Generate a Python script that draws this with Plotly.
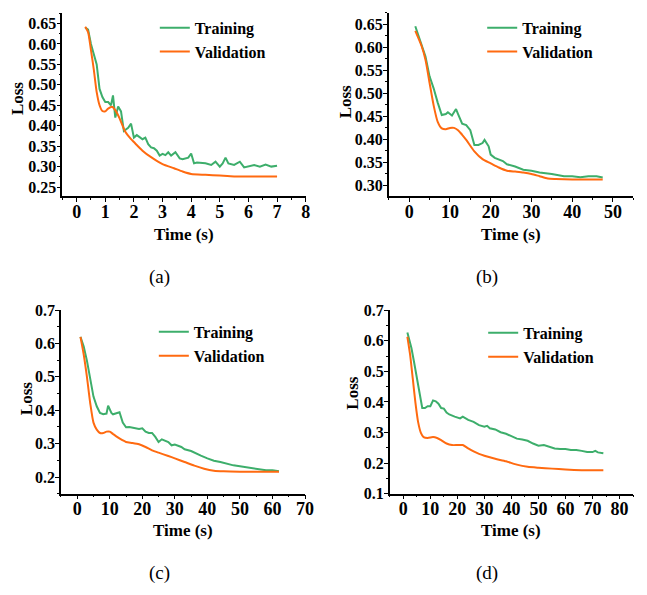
import plotly.graph_objects as go

W, H = 647, 595

# ---------------- data ----------------
a_train_t = [0.3,0.4,0.5,0.6,0.7,0.8,0.9,1.0,1.1,1.2,1.27,1.35,1.45,1.55,1.65,1.8,1.9,2.0,2.1,2.2,
             2.3,2.4,2.5,2.6,2.7,2.8,2.9,3.0,3.1,3.2,3.3,3.45,3.6,3.7,3.8,3.9,4.0,4.1,4.2,4.3,
             4.5,4.7,4.85,5.0,5.1,5.2,5.3,5.5,5.7,5.85,6.0,6.2,6.4,6.6,6.8,7.0]
a_train_loss = [0.640,0.635,0.600,0.577,0.550,0.490,0.470,0.458,0.458,0.450,0.474,0.420,0.447,0.435,0.387,0.395,0.405,0.371,0.377,0.372,
                0.367,0.371,0.355,0.347,0.345,0.339,0.327,0.331,0.328,0.335,0.327,0.335,0.320,0.318,0.320,0.322,0.332,0.308,0.310,0.309,
                0.308,0.304,0.312,0.300,0.308,0.322,0.308,0.304,0.312,0.298,0.301,0.304,0.300,0.305,0.300,0.302]
a_val_t = [0.3,0.4,0.5,0.6,0.7,0.8,0.9,1.0,1.1,1.25,1.35,1.5,1.7,1.9,2.0,2.3,2.6,3.0,3.4,3.7,4.0,4.5,5.0,5.5,6.0,7.0]
a_val_loss = [0.642,0.629,0.585,0.537,0.482,0.450,0.436,0.435,0.442,0.446,0.438,0.418,0.385,0.367,0.360,0.339,0.323,0.306,0.296,0.288,0.282,0.280,0.278,0.276,0.276,0.276]

b_train_t = [1.5,3,4,5,6,7,8,9,9.5,10.5,11.5,12,13,14,15,16,17,18,18.5,19.5,
             20,21,22,23,24,26,28,30,32,35,38,40,42,44,46,47.5]
b_train_loss = [0.646,0.608,0.580,0.537,0.511,0.480,0.453,0.455,0.459,0.452,0.466,0.455,0.434,0.431,0.420,0.388,0.388,0.392,0.399,0.385,
                0.367,0.360,0.357,0.353,0.346,0.341,0.334,0.332,0.328,0.325,0.320,0.320,0.318,0.320,0.320,0.317]
b_val_t = [1.5,3,4,5,6,7,8,9,10,11,12,13,14,16,18,20,22,24,26,28,30,32,34,36,40,44,47.5]
b_val_loss = [0.636,0.604,0.573,0.523,0.474,0.438,0.424,0.422,0.425,0.425,0.420,0.410,0.399,0.374,0.357,0.348,0.339,0.332,0.330,0.328,
              0.325,0.320,0.315,0.314,0.313,0.313,0.313]

c_train_t = [1,2,3,4,5,6,7,8,9,9.5,10.5,11,12,13,14,15,16,18,19,20,21,22,23,24,25,26,27,28,29,
             30,32,33,35,37,38,40,42,44,46,48,50,52,54,56,58,60,62]
c_train_loss = [0.620,0.591,0.548,0.499,0.441,0.412,0.392,0.388,0.390,0.414,0.392,0.388,0.392,0.394,0.363,0.349,0.350,0.346,0.344,
                0.346,0.336,0.332,0.332,0.320,0.305,0.313,0.308,0.305,0.295,0.297,0.290,0.283,0.278,0.268,0.264,0.256,0.249,0.245,0.239,
                0.235,0.232,0.229,0.225,0.222,0.220,0.220,0.217]
c_val_t = [1,2,3,4,5,6,7,8,9,10,11,12,14,15,17,19,21,23,25,28,30,33,36,39,42,45,50,55,62]
c_val_loss = [0.620,0.567,0.499,0.421,0.363,0.342,0.332,0.332,0.336,0.336,0.329,0.322,0.310,0.305,0.302,0.298,0.290,0.280,0.273,0.263,
              0.256,0.245,0.234,0.225,0.219,0.217,0.216,0.216,0.216]

d_train_t = [1.5,3,4,5,6,7,8,9,10,11,12,13,14,15,16,17,19,21,22,23,24,26,28,30,31,32,34,36,38,40,
             42,44,46,48,50,52,54,56,58,60,62,64,66,68,70,71,72,74]
d_train_loss = [0.627,0.576,0.529,0.481,0.433,0.380,0.380,0.386,0.386,0.405,0.402,0.394,0.380,0.378,0.365,0.359,0.352,0.346,0.352,0.346,
                0.341,0.335,0.324,0.319,0.322,0.314,0.310,0.301,0.296,0.288,0.280,0.277,0.273,0.264,0.257,0.259,0.253,0.248,0.246,0.246,
                0.243,0.243,0.240,0.236,0.236,0.240,0.235,0.232]
d_val_t = [1.5,2.5,3.5,4.5,5.5,6.5,7.5,9,11,12.5,14,16,18,20,22,24,26,28,30,34,38,42,46,50,55,60,66,74]
d_val_loss = [0.613,0.555,0.476,0.396,0.333,0.299,0.285,0.282,0.285,0.282,0.275,0.264,0.259,0.259,0.259,0.248,0.238,0.230,0.224,0.214,
              0.206,0.195,0.188,0.185,0.182,0.179,0.177,0.177]

series_names = ["Training", "Validation"]
captions = ["(a)", "(b)", "(c)", "(d)"]
x_title = "Time (s)"
y_title = "Loss"

GREEN = "#3DAE6B"
ORANGE = "#FF6A10"
FONT = "Liberation Serif"

# panel geometry in pixels: (left, right, top, bottom)
panels = [
    dict(train=(a_train_t, a_train_loss), val=(a_val_t, a_val_loss), px=(63.2, 310), py=(5, 194),
         xr=[-0.5, 8], yr=[0.227, 0.676], xd=1, xm=0.5, yd=0.05, ym=0.025, fmt=".2f"),
    dict(train=(b_train_t, b_train_loss), val=(b_val_t, b_val_loss), px=(394.3, 642.2), py=(5, 194),
         xr=[-5, 55], yr=[0.276, 0.675], xd=10, xm=5, yd=0.05, ym=0.025, fmt=".2f"),
    dict(train=(c_train_t, c_train_loss), val=(c_val_t, c_val_loss), px=(61.8, 309.3), py=(311, 500),
         xr=[-5, 70], yr=[0.15, 0.7], xd=10, xm=5, yd=0.1, ym=0.05, fmt=".1f"),
    dict(train=(d_train_t, d_train_loss), val=(d_val_t, d_val_loss), px=(395.3, 642), py=(311, 500),
         xr=[-5, 85], yr=[0.1, 0.7], xd=10, xm=5, yd=0.1, ym=0.05, fmt=".1f"),
]
# legend box top (px) and x of line start
legend_pos = [(3, 154), (3, 486), (316, 153), (317, 487)]

fig = go.Figure()
annotations = []
layout = {}

for i, p in enumerate(panels):
    n = "" if i == 0 else str(i + 1)
    xa, ya = "x" + n, "y" + n
    leg = "legend" + n
    fig.add_trace(go.Scatter(x=p["train"][0], y=p["train"][1], mode="lines", name=series_names[0],
                             line=dict(color=GREEN, width=2), xaxis=xa, yaxis=ya, legend=leg))
    fig.add_trace(go.Scatter(x=p["val"][0], y=p["val"][1], mode="lines", name=series_names[1],
                             line=dict(color=ORANGE, width=2, shape="spline", smoothing=0.6),
                             xaxis=xa, yaxis=ya, legend=leg))
    l, r = p["px"]
    t, b = p["py"]
    common = dict(showgrid=False, zeroline=False, showline=True, linecolor="black", linewidth=1.5,
                  ticks="outside", ticklen=4, tickwidth=1.3, tickcolor="black")
    layout["xaxis" + n] = dict(domain=[l / W, r / W], range=p["xr"], anchor=ya, dtick=p["xd"], tick0=0,
                               tickfont=dict(family=FONT, size=18, color="black", weight="bold"),
                               ticklabelstandoff=-6,
                               minor=dict(dtick=p["xm"], tick0=0, ticks="outside", ticklen=2, tickcolor="black", tickwidth=1.2),
                               **common)
    layout["yaxis" + n] = dict(domain=[1 - b / H, 1 - t / H], range=p["yr"], anchor=xa, dtick=p["yd"], tick0=0,
                               tickformat=p["fmt"], ticklabelstandoff=-3,
                               tickfont=dict(family=FONT, size=16, color="black", weight="bold"),
                               minor=dict(dtick=p["ym"], tick0=0, ticks="outside", ticklen=2, tickcolor="black", tickwidth=1.2),
                               **common)
    ly, lx = legend_pos[i]
    layout[leg] = dict(x=(lx + 3) / W, y=1 - ly / H, xanchor="left", yanchor="top",
                       bgcolor="rgba(0,0,0,0)", borderwidth=0, tracegroupgap=0,
                       font=dict(family=FONT, size=16, color="black", weight="bold"))

# axis titles and captions
loss_pos = [(18, 93), (350, 97), (27, 402), (358, 397)]
time_pos = [(187, 233), (518, 233), (186, 538), (518, 538)]
cap_pos = [(162, 277), (494, 277), (162, 582), (494, 582)]
for i in range(4):
    annotations.append(dict(text=y_title, x=loss_pos[i][0] / W, y=1 - loss_pos[i][1] / H, xref="paper", yref="paper",
                            showarrow=False, textangle=-90, xanchor="center", yanchor="middle",
                            font=dict(family=FONT, size=17, color="black", weight="bold")))
    annotations.append(dict(text=x_title, x=time_pos[i][0] / W, y=1 - time_pos[i][1] / H, xref="paper", yref="paper",
                            showarrow=False, xanchor="center", yanchor="middle",
                            font=dict(family=FONT, size=17, color="black", weight="bold")))
    annotations.append(dict(text=captions[i], x=cap_pos[i][0] / W, y=1 - cap_pos[i][1] / H, xref="paper", yref="paper",
                            showarrow=False, xanchor="center", yanchor="middle",
                            font=dict(family=FONT, size=19, color="black")))

fig.update_layout(width=W, height=H, margin=dict(l=0, r=0, t=0, b=0), paper_bgcolor="white",
                  plot_bgcolor="white", showlegend=True, annotations=annotations, **layout)

fig.write_html("out.html", config={"displayModeBar": False},
               post_script="document.body.style.margin='0';")
